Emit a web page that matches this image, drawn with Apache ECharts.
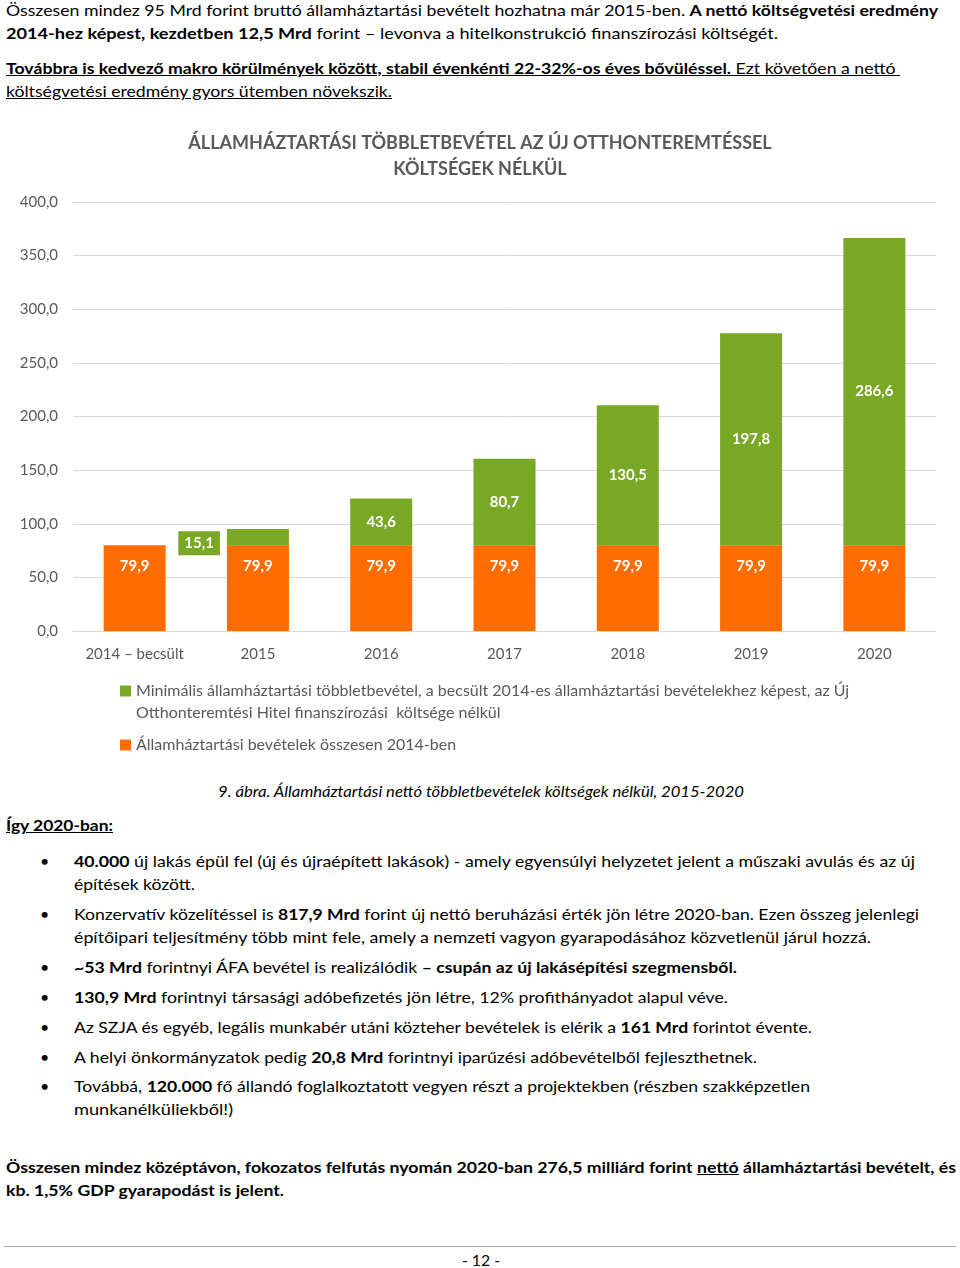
<!DOCTYPE html>
<html><head><meta charset="utf-8">
<script src="https://cdn.jsdelivr.net/npm/echarts@6/dist/echarts.min.js"></script>
<style>
html,body{margin:0;padding:0;background:#fff;}
body{width:960px;height:1268px;position:relative;overflow:hidden;font-family:Lato,"Open Sans",sans-serif;color:#000;}
.ln{position:absolute;white-space:nowrap;font-size:16px;line-height:22px;transform-origin:0 50%;}
.b{font-weight:bold;}
.u{text-decoration:underline;}
.dot{position:absolute;font-size:16px;line-height:22px;}
#chart{position:absolute;left:0;top:120px;width:960px;height:660px;}
#rule{position:absolute;left:4px;top:1246px;width:952px;height:1px;background:#a0a0a0;}
</style></head><body>

<div class="ln" style="left:6px;top:-1px" data-w="932">Összesen mindez 95 Mrd forint bruttó államháztartási bevételt hozhatna már 2015-ben. <span class="b">A nettó költségvetési eredmény</span></div>
<div class="ln" style="left:6px;top:22px" data-w="772"><span class="b">2014-hez képest, kezdetben 12,5 Mrd</span> forint – levonva a hitelkonstrukció finanszírozási költségét.</div>
<div class="ln u" style="left:6px;top:57px" data-w="894"><span class="b">Továbbra is kedvező makro körülmények között, stabil évenkénti 22-32%-os éves bővüléssel.</span> Ezt követően a nettó&nbsp;</div>
<div class="ln u" style="left:6px;top:80px" data-w="386">költségvetési eredmény gyors ütemben növekszik.</div>

<div id="chart"></div>

<div class="ln" style="left:218px;top:780px;font-style:italic" data-w="526">9. ábra. Államháztartási nettó többletbevételek költségek nélkül, 2015-2020</div>
<div class="ln b u" style="left:6px;top:814px" data-w="107">Így 2020-ban:</div>

<div class="dot" style="left:40px;top:850px">•</div>
<div class="ln" style="left:74px;top:850px" data-w="841"><span class="b">40.000</span> új lakás épül fel (új és újraépített lakások) - amely egyensúlyi helyzetet jelent a műszaki avulás és az új</div>
<div class="ln" style="left:74px;top:873px" data-w="121">építések között.</div>

<div class="dot" style="left:40px;top:903px">•</div>
<div class="ln" style="left:74px;top:903px" data-w="845">Konzervatív közelítéssel is <span class="b">817,9 Mrd</span> forint új nettó beruházási érték jön létre 2020-ban. Ezen összeg jelenlegi</div>
<div class="ln" style="left:74px;top:926px" data-w="797">építőipari teljesítmény több mint fele, amely a nemzeti vagyon gyarapodásához közvetlenül járul hozzá.</div>

<div class="dot" style="left:40px;top:956px">•</div>
<div class="ln" style="left:74px;top:956px" data-w="663"><span class="b">~53 Mrd</span> forintnyi ÁFA bevétel is realizálódik <span class="b">– csupán az új lakásépítési szegmensből.</span></div>

<div class="dot" style="left:40px;top:986px">•</div>
<div class="ln" style="left:74px;top:986px" data-w="654"><span class="b">130,9 Mrd</span> forintnyi társasági adóbefizetés jön létre, 12% profithányadot alapul véve.</div>

<div class="dot" style="left:40px;top:1016px">•</div>
<div class="ln" style="left:74px;top:1016px" data-w="738">Az SZJA és egyéb, legális munkabér utáni közteher bevételek is elérik a <span class="b">161 Mrd</span> forintot évente.</div>

<div class="dot" style="left:40px;top:1046px">•</div>
<div class="ln" style="left:74px;top:1046px" data-w="683">A helyi önkormányzatok pedig <span class="b">20,8 Mrd</span> forintnyi iparűzési adóbevételből fejleszthetnek.</div>

<div class="dot" style="left:40px;top:1075px">•</div>
<div class="ln" style="left:74px;top:1075px" data-w="736">Továbbá, <span class="b">120.000</span> fő állandó foglalkoztatott vegyen részt a projektekben (részben szakképzetlen</div>
<div class="ln" style="left:74px;top:1098px" data-w="159">munkanélküliekből!)</div>

<div class="ln b" style="left:6px;top:1156px" data-w="950">Összesen mindez középtávon, fokozatos felfutás nyomán 2020-ban 276,5 milliárd forint <span class="u">nettó</span> államháztartási bevételt, és</div>
<div class="ln b" style="left:6px;top:1179px" data-w="278">kb. 1,5% GDP gyarapodást is jelent.</div>

<div id="rule"></div>
<div class="ln" style="left:462px;top:1249px" data-w="38">- 12 -</div>

<script>
// ---- data ----
const categories = ['2014 – becsült', '2015', '2016', '2017', '2018', '2019', '2020'];
const baseRevenue = [79.9, 79.9, 79.9, 79.9, 79.9, 79.9, 79.9];
const surplus = [null, 15.1, 43.6, 80.7, 130.5, 197.8, 286.6];
const yTicks = [0, 50, 100, 150, 200, 250, 300, 350, 400];
const titleLines = ['ÁLLAMHÁZTARTÁSI TÖBBLETBEVÉTEL AZ ÚJ OTTHONTEREMTÉSSEL', 'KÖLTSÉGEK NÉLKÜL'];
const surplusLines = ['Minimális államháztartási többletbevétel, a becsült 2014-es államháztartási bevételekhez képest, az Új', 'Otthonteremtési Hitel finanszírozási  költsége nélkül'];
const surplusName = surplusLines.join(' ');
const baseName = 'Államháztartási bevételek összesen 2014-ben';

// fit text lines
document.querySelectorAll('[data-w]').forEach(function (el) {
  const w = el.getBoundingClientRect().width;
  const t = +el.dataset.w;
  if (w > 0) el.style.transform = 'scaleX(' + (t / w) + ')';
});

const GREEN = '#79a824';
const ORANGE = '#ff6d00';
const GREY = '#595959';
const FONT = 'Lato';
const fmt = v => (v == null ? '' : v.toFixed(1).replace('.', ','));

const chart = echarts.init(document.getElementById('chart'), null, { renderer: 'canvas' });

const surplusData = surplus.map(function (v, i) {
  if (i === 1) {
    return {
      value: v,
      label: {
        position: 'left', distance: 7, offset: [0, 6],
        backgroundColor: GREEN, padding: [5, 6, 4, 6]
      }
    };
  }
  return v;
});

chart.setOption({
  animation: false,
  textStyle: { fontFamily: FONT },
  title: {
    text: titleLines.join('\n'),
    left: 'center', top: 5,
    textStyle: { fontFamily: FONT, fontSize: 18, fontWeight: 'bold', color: GREY, lineHeight: 26 }
  },
  grid: { left: 73, right: 24, top: 82, bottom: 149, containLabel: false },
  xAxis: {
    type: 'category', data: categories,
    axisLine: { lineStyle: { color: '#d9d9d9', width: 1 } },
    axisTick: { show: false },
    axisLabel: { color: GREY, fontSize: 15, margin: 16, fontFamily: FONT, interval: 0 }
  },
  yAxis: {
    type: 'value', min: yTicks[0], max: yTicks[yTicks.length - 1], interval: 50,
    axisLine: { show: false }, axisTick: { show: false },
    splitLine: { lineStyle: { color: '#d9d9d9', width: 1 } },
    axisLabel: { color: GREY, fontSize: 15, margin: 15, fontFamily: FONT, formatter: fmt }
  },
  legend: {
    orient: 'vertical', left: 115, top: 533, itemGap: 10,
    itemWidth: 11, itemHeight: 11, icon: 'rect',
    formatter: function (name) {
      if (name === surplusName) return '{t|' + surplusLines[0] + '}\n{t|' + surplusLines[1] + '}';
      return name;
    },
    textStyle: {
      color: GREY, fontSize: 16, fontFamily: FONT, lineHeight: 22,
      rich: { t: { color: GREY, fontSize: 16, fontFamily: FONT, lineHeight: 22 } }
    },
    data: [
      { name: surplusName, textStyle: { padding: [22, 0, 0, 0] } },
      { name: baseName }
    ]
  },
  series: [
    {
      name: baseName, type: 'bar', stack: 'tot', barWidth: 62,
      itemStyle: { color: ORANGE },
      label: {
        show: true, position: 'insideTop', distance: 13,
        color: '#fff', fontWeight: 'bold', fontSize: 15, fontFamily: FONT, formatter: p => fmt(p.value)
      },
      data: baseRevenue
    },
    {
      name: surplusName, type: 'bar', stack: 'tot', barWidth: 62,
      itemStyle: { color: GREEN },
      label: {
        show: true, position: 'inside',
        color: '#fff', fontWeight: 'bold', fontSize: 15, fontFamily: FONT,
        formatter: p => fmt(typeof p.value === 'object' ? p.value.value : p.value)
      },
      data: surplusData
    }
  ]
});
</script>
</body></html>
